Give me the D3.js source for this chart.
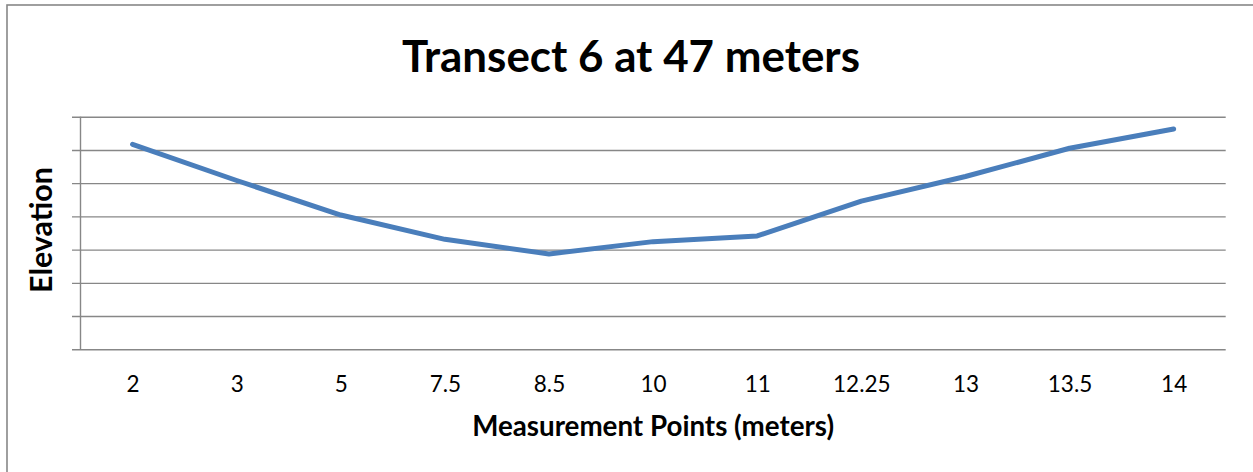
<!DOCTYPE html>
<html>
<head>
<meta charset="utf-8">
<script src="https://cdn.jsdelivr.net/npm/d3@7"></script>
<style>
  html, body { margin: 0; padding: 0; background: #fff; }
  svg { display: block; }
</style>
</head>
<body>
<svg id="chart" width="1253" height="472"></svg>
<script>
// Measurement points along the transect (category axis)
const categories = ["2", "3", "5", "7.5", "8.5", "10", "11", "12.25", "13", "13.5", "14"];
// Elevation at each point (in gridline units; the axis carries no labels)
const elevation = [6.17, 5.08, 4.04, 3.31, 2.87, 3.24, 3.41, 4.46, 5.2, 6.05, 6.63];
// Gridline values for the value axis
const yTicks = [0, 1, 2, 3, 4, 5, 6, 7];

const titleText = "Transect 6 at 47 meters";
const xTitleText = "Measurement Points (meters)";
const yTitleText = "Elevation";

const svg = d3.select("#chart");
const W = 1253, H = 472;
const plot = { left: 80.5, right: 1225.7, top: 116.7, bottom: 349.3 };
const gridColor = "#878787";
const fontFamily = "Lato, 'Open Sans', sans-serif";

// Outer chart frame
svg.append("rect")
  .attr("x", 7).attr("y", 5)
  .attr("width", W + 20).attr("height", H + 20)
  .attr("fill", "#fff")
  .attr("stroke", gridColor)
  .attr("stroke-width", 1.6);

const x = d3.scalePoint()
  .domain(categories)
  .range([plot.left, plot.right])
  .padding(0.5);

const y = d3.scaleLinear()
  .domain([0, 7])
  .range([plot.bottom, plot.top]);

// Horizontal gridlines, with small outward ticks on the value axis
const yAxis = d3.axisLeft(y)
  .tickValues(yTicks)
  .tickSize(-(plot.right - plot.left))
  .tickFormat("");
const gy = svg.append("g")
  .attr("transform", `translate(${plot.left},0)`)
  .call(yAxis);
gy.select(".domain").remove();
gy.selectAll(".tick line")
  .attr("x1", -8.5)
  .attr("stroke", gridColor)
  .attr("stroke-width", 1.4);

// Value axis line
svg.append("line")
  .attr("x1", plot.left).attr("x2", plot.left)
  .attr("y1", plot.top).attr("y2", plot.bottom)
  .attr("stroke", gridColor)
  .attr("stroke-width", 1.4);

// Category axis labels (no tick marks)
const xAxis = d3.axisBottom(x).tickSize(0).tickPadding(0);
const gx = svg.append("g")
  .attr("transform", `translate(0,${plot.bottom})`)
  .call(xAxis);
gx.select(".domain").remove();
gx.selectAll(".tick text")
  .attr("dy", null)
  .attr("y", 43)
  .attr("fill", "#000")
  .style("font-family", fontFamily)
  .style("font-size", "22.5px");

// Elevation line
const line = d3.line()
  .x((d, i) => x(categories[i]))
  .y(d => y(d));
svg.append("path")
  .datum(elevation)
  .attr("d", line)
  .attr("fill", "none")
  .attr("stroke", "#4a7ebb")
  .attr("stroke-width", 5)
  .attr("stroke-linejoin", "round")
  .attr("stroke-linecap", "round");

// Sizes a bold label so it spans the given width
function fitText(sel, target, start) {
  sel.style("font-size", start + "px");
  const w = sel.node().getComputedTextLength();
  if (w > 0) sel.style("font-size", (start * target / w).toFixed(2) + "px");
  return sel;
}

const title = svg.append("text")
  .attr("x", 631).attr("y", 72)
  .attr("text-anchor", "middle")
  .attr("fill", "#000")
  .style("font-family", fontFamily)
  .style("font-weight", "bold")
  .text(titleText);
fitText(title, 458, 42);

const xTitle = svg.append("text")
  .attr("x", (plot.left + plot.right) / 2).attr("y", 436)
  .attr("text-anchor", "middle")
  .attr("fill", "#000")
  .style("font-family", fontFamily)
  .style("font-weight", "bold")
  .text(xTitleText);
fitText(xTitle, 362, 30);

const yTitle = svg.append("text")
  .attr("transform", `translate(52,230) rotate(-90)`)
  .attr("text-anchor", "middle")
  .attr("fill", "#000")
  .style("font-family", fontFamily)
  .style("font-weight", "bold")
  .text(yTitleText);
fitText(yTitle, 126, 30);
</script>
</body>
</html>
